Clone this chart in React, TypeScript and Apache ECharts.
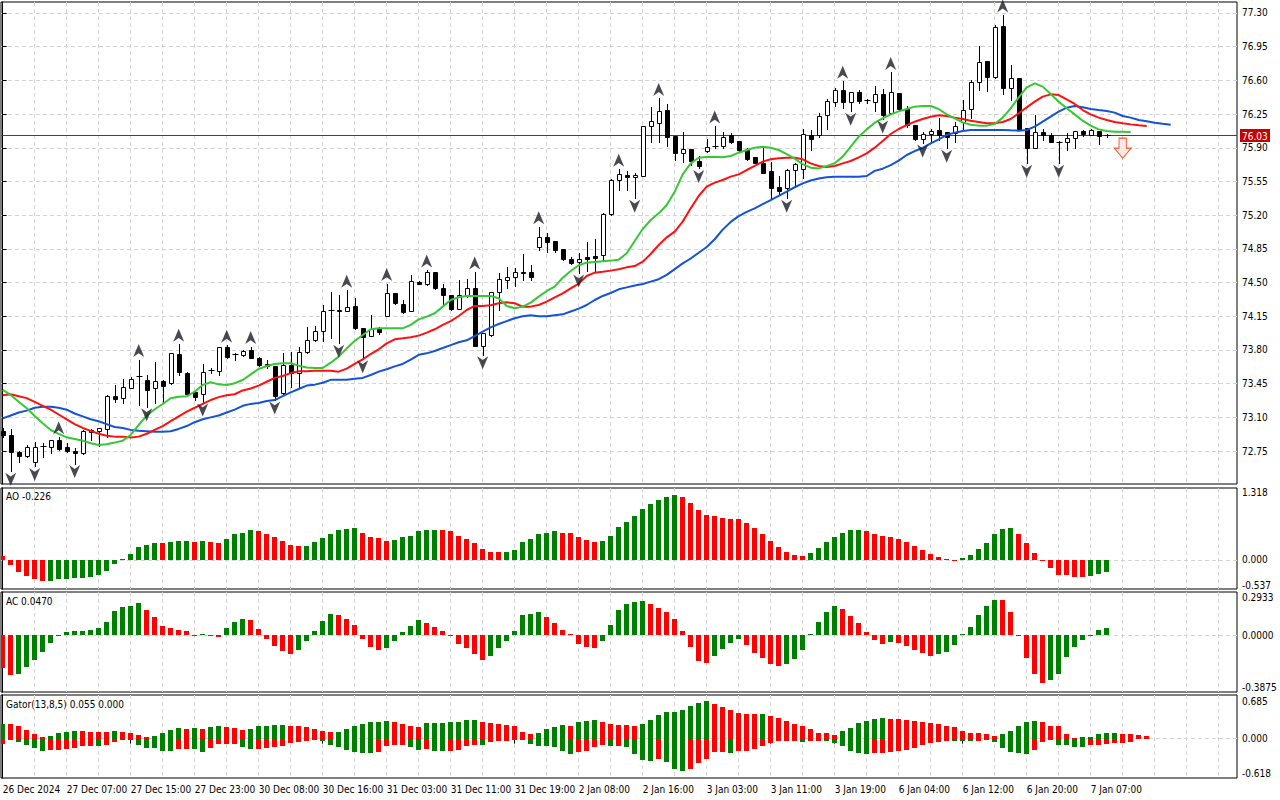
import React, { useEffect, useRef } from "react";
import * as echarts from "echarts";

// ---------- data ----------
const tickLabels = [
  "26 Dec 2024", "27 Dec 07:00", "27 Dec 15:00", "27 Dec 23:00", "30 Dec 08:00", "30 Dec 16:00",
  "31 Dec 03:00", "31 Dec 11:00", "31 Dec 19:00", "2 Jan 08:00", "2 Jan 16:00", "3 Jan 03:00",
  "3 Jan 11:00", "3 Jan 19:00", "6 Jan 04:00", "6 Jan 12:00", "6 Jan 20:00", "7 Jan 07:00",
];
const tickBars = [0, 8, 16, 24, 32, 40, 48, 56, 64, 72, 80, 88, 96, 104, 112, 120, 128, 136];
const gridBars = [4, 8, 12, 16, 20, 24, 28, 32, 36, 40, 44, 48, 52, 56, 60, 64, 68, 72, 76, 80, 84, 88,
  92, 96, 100, 104, 108, 112, 116, 120, 124, 128, 132, 136, 140, 144, 148, 152];
const priceTicks = [72.75, 73.1, 73.45, 73.8, 74.15, 74.5, 74.85, 75.2, 75.55, 75.9, 76.25, 76.6, 76.95, 77.3];

// open, high, low, close (H1 bars)
const ohlc = [
  [72.96, 72.99, 72.9, 72.92], [72.92, 72.98, 72.54, 72.74], [72.74, 72.75, 72.64, 72.7], [72.7, 72.81, 72.69, 72.79],
  [72.64, 72.84, 72.59, 72.79], [72.79, 72.83, 72.69, 72.8], [72.79, 72.87, 72.73, 72.86], [72.86, 72.9, 72.76, 72.77],
  [72.79, 72.83, 72.74, 72.75], [72.75, 72.78, 72.62, 72.73], [72.73, 72.97, 72.72, 72.96], [72.95, 72.98, 72.86, 72.97],
  [72.96, 72.99, 72.8, 72.985], [72.98, 73.33, 72.9, 73.32], [73.32, 73.44, 73.26, 73.29], [73.3, 73.5, 73.25, 73.42],
  [73.41, 73.52, 73.4, 73.495], [73.52, 73.7, 73.23, 73.53], [73.49, 73.54, 73.21, 73.38], [73.4, 73.67, 73.25, 73.48],
  [73.48, 73.49, 73.25, 73.43], [73.46, 73.77, 73.45, 73.765], [73.76, 73.86, 73.54, 73.57], [73.565, 73.57, 73.33, 73.34],
  [73.36, 73.37, 73.28, 73.31], [73.34, 73.655, 73.26, 73.575], [73.59, 73.61, 73.56, 73.592], [73.585, 73.83, 73.54, 73.83],
  [73.83, 73.85, 73.72, 73.73], [73.76, 73.77, 73.7, 73.755], [73.745, 73.8, 73.74, 73.79], [73.8, 73.835, 73.72, 73.72],
  [73.72, 73.725, 73.63, 73.645], [73.65, 73.7, 73.61, 73.635], [73.63, 73.63, 73.28, 73.32], [73.35, 73.77, 73.34, 73.645],
  [73.64, 73.78, 73.42, 73.56], [73.56, 73.83, 73.4, 73.775], [73.775, 74.035, 73.77, 73.9], [73.9, 74.05, 73.89, 74.0],
  [74.0, 74.27, 73.89, 74.205], [74.21, 74.405, 73.92, 74.2], [74.22, 74.37, 73.87, 74.2], [74.205, 74.42, 74.2, 74.245],
  [74.26, 74.335, 74.02, 74.025], [74.025, 74.03, 73.71, 73.93], [73.945, 74.16, 73.94, 74.015], [74.025, 74.035, 73.97, 73.99],
  [74.155, 74.49, 74.15, 74.39], [74.39, 74.39, 74.28, 74.285], [74.28, 74.32, 74.18, 74.19], [74.2, 74.58, 74.2, 74.52],
  [74.51, 74.52, 74.48, 74.485], [74.48, 74.63, 74.475, 74.605], [74.605, 74.61, 74.43, 74.44], [74.44, 74.49, 74.27, 74.37],
  [74.37, 74.37, 74.215, 74.23], [74.23, 74.53, 74.23, 74.37], [74.37, 74.535, 74.35, 74.44], [74.44, 74.61, 73.84, 73.84],
  [73.84, 73.98, 73.75, 73.98], [73.955, 74.405, 73.94, 74.4], [74.4, 74.6, 74.215, 74.535], [74.53, 74.665, 74.44, 74.555],
  [74.555, 74.65, 74.465, 74.615], [74.615, 74.8, 74.53, 74.595], [74.613, 74.68, 74.53, 74.56], [74.873, 75.08, 74.838, 74.97],
  [74.97, 75.02, 74.82, 74.925], [74.935, 74.935, 74.82, 74.838], [74.845, 74.85, 74.73, 74.745], [74.75, 74.77, 74.69, 74.7],
  [74.71, 74.81, 74.6, 74.74], [74.765, 74.92, 74.62, 74.745], [74.775, 74.95, 74.61, 74.76], [74.785, 75.22, 74.735, 75.212],
  [75.21, 75.575, 75.2, 75.565], [75.565, 75.676, 75.46, 75.625], [75.62, 75.655, 75.46, 75.595], [75.595, 75.64, 75.375, 75.62],
  [75.61, 76.125, 75.605, 76.125], [76.13, 76.32, 75.965, 76.18], [76.155, 76.413, 75.965, 76.28], [76.29, 76.355, 75.92, 76.015],
  [76.02, 76.02, 75.77, 75.85], [75.85, 76.06, 75.755, 75.885], [75.89, 75.89, 75.72, 75.765], [75.76, 75.81, 75.686, 75.715],
  [75.87, 75.99, 75.86, 75.905], [75.915, 76.126, 75.895, 75.905], [75.92, 76.06, 75.895, 76.015], [76.03, 76.05, 75.945, 75.955],
  [75.97, 75.97, 75.87, 75.875], [75.875, 75.895, 75.775, 75.785], [75.8, 75.8, 75.74, 75.745], [75.745, 75.92, 75.635, 75.64],
  [75.66, 75.755, 75.38, 75.485], [75.49, 75.61, 75.41, 75.455], [75.485, 75.675, 75.375, 75.67], [75.67, 75.745, 75.515, 75.73],
  [75.675, 76.09, 75.59, 76.045], [76.035, 76.085, 75.88, 75.99], [76.03, 76.26, 76.015, 76.23], [76.24, 76.41, 76.1, 76.385],
  [76.38, 76.52, 76.33, 76.5], [76.505, 76.59, 76.31, 76.38], [76.38, 76.475, 76.28, 76.475], [76.475, 76.5, 76.36, 76.39],
  [76.39, 76.41, 76.36, 76.392], [76.38, 76.54, 76.28, 76.455], [76.455, 76.51, 76.2, 76.24], [76.26, 76.683, 76.26, 76.475],
  [76.465, 76.465, 76.29, 76.3], [76.3, 76.33, 76.12, 76.135], [76.135, 76.135, 75.98, 75.99], [75.99, 76.065, 75.95, 76.04],
  [76.04, 76.1, 75.975, 76.077], [76.085, 76.205, 75.98, 76.035], [76.06, 76.06, 75.895, 76.015], [76.055, 76.17, 75.955, 76.125],
  [76.17, 76.395, 76.09, 76.29], [76.3, 76.6, 76.205, 76.585], [76.585, 76.96, 76.5, 76.79], [76.805, 76.805, 76.49, 76.63],
  [76.63, 77.18, 76.62, 77.15], [77.165, 77.28, 76.455, 76.52], [76.52, 76.76, 76.395, 76.62], [76.62, 76.62, 76.085, 76.085],
  [76.11, 76.11, 75.74, 75.9], [75.9, 76.24, 75.895, 76.065], [76.065, 76.1, 75.98, 76.03], [76.035, 76.05, 75.955, 75.965],
  [75.965, 75.97, 75.74, 75.962], [75.965, 76.05, 75.88, 76.0], [76.0, 76.07, 75.9, 76.07], [76.07, 76.08, 76.02, 76.045],
  [76.035, 76.09, 76.03, 76.085], [76.075, 76.075, 75.935, 76.025], [76.027, 76.045, 76.015, 76.03],
];

// Alligator lines as drawn (already shifted forward)
const jaw = [
  73.09, 73.12, 73.15, 73.17, 73.2, 73.21, 73.21, 73.2, 73.18, 73.14,
  73.11, 73.08, 73.06, 73.03, 73.0, 72.99, 72.97, 72.96, 72.955, 72.95,
  72.95, 72.955, 72.98, 73.01, 73.05, 73.08, 73.1, 73.12, 73.15, 73.18,
  73.22, 73.24, 73.25, 73.27, 73.28, 73.32, 73.36, 73.395, 73.43, 73.44,
  73.46, 73.49, 73.49, 73.49, 73.5, 73.51, 73.54, 73.575, 73.6, 73.63,
  73.655, 73.7, 73.75, 73.765, 73.79, 73.82, 73.85, 73.88, 73.9, 73.945,
  73.99, 74.035, 74.07, 74.1, 74.13, 74.15, 74.16, 74.15, 74.15, 74.16,
  74.17, 74.2, 74.23, 74.267, 74.319, 74.361, 74.392, 74.43, 74.45, 74.47,
  74.485, 74.51, 74.535, 74.58, 74.64, 74.7, 74.75, 74.81, 74.87, 74.95,
  75.05, 75.13, 75.19, 75.235, 75.27, 75.315, 75.357, 75.4, 75.445, 75.49,
  75.53, 75.56, 75.58, 75.593, 75.6, 75.6, 75.6, 75.6, 75.607, 75.66,
  75.683, 75.72, 75.766, 75.825, 75.866, 75.898, 75.946, 75.988, 76.033, 76.057,
  76.074, 76.085, 76.085, 76.085, 76.085, 76.085, 76.081, 76.078, 76.085, 76.119,
  76.171, 76.223, 76.275, 76.316, 76.334, 76.32, 76.303, 76.292, 76.282, 76.265,
  76.23, 76.213, 76.188, 76.175, 76.161, 76.15, 76.14,
];
const teeth = [
  73.33, 73.34, 73.32, 73.3, 73.26, 73.22, 73.18, 73.13, 73.08, 73.03,
  72.99, 72.96, 72.93, 72.91, 72.9, 72.9, 72.89, 72.9, 72.93, 72.97,
  73.01, 73.06, 73.11, 73.16, 73.2, 73.24, 73.28, 73.31, 73.33, 73.34,
  73.38, 73.4, 73.43, 73.47, 73.51, 73.53, 73.56, 73.58, 73.58, 73.585,
  73.585, 73.585, 73.575, 73.606, 73.655, 73.703, 73.758, 73.807, 73.869, 73.911,
  73.921, 73.932, 73.949, 73.98, 74.015, 74.06, 74.1, 74.153, 74.215, 74.257,
  74.257, 74.264, 74.285, 74.295, 74.285, 74.25, 74.25, 74.267, 74.302, 74.347,
  74.388, 74.44, 74.49, 74.568, 74.603, 74.613, 74.624, 74.638, 74.658, 74.672,
  74.717, 74.797, 74.89, 74.97, 75.029, 75.133, 75.271, 75.399, 75.496, 75.538,
  75.565, 75.6, 75.624, 75.669, 75.711, 75.756, 75.78, 75.79, 75.797, 75.797,
  75.78, 75.738, 75.711, 75.7, 75.71, 75.738, 75.763, 75.801, 75.842, 75.901,
  75.97, 76.043, 76.095, 76.136, 76.171, 76.199, 76.223, 76.237, 76.23, 76.213,
  76.199, 76.181, 76.168, 76.154, 76.154, 76.168, 76.199, 76.258, 76.32, 76.379,
  76.431, 76.455, 76.448, 76.403, 76.355, 76.292, 76.247, 76.213, 76.188, 76.168,
  76.154, 76.143, 76.133, 76.126,
];
const lips = [
  73.385, 73.333, 73.263, 73.194, 73.115, 73.039, 72.969, 72.928, 72.893, 72.876,
  72.858, 72.831, 72.814, 72.82, 72.838, 72.858, 72.917, 73.021, 73.118, 73.184,
  73.239, 73.298, 73.315, 73.319, 73.367, 73.437, 73.464, 73.443, 73.437, 73.454,
  73.488, 73.547, 73.603, 73.634, 73.655, 73.662, 73.662, 73.637, 73.617, 73.613,
  73.613, 73.668, 73.731, 73.817, 73.893, 73.956, 74.015, 74.025, 74.025, 74.025,
  74.025, 74.06, 74.118, 74.146, 74.181, 74.25, 74.319, 74.347, 74.361, 74.361,
  74.361, 74.361, 74.337, 74.257, 74.233, 74.25, 74.292, 74.354, 74.413, 74.458,
  74.55, 74.62, 74.68, 74.707, 74.714, 74.721, 74.728, 74.738, 74.804, 74.932,
  75.056, 75.15, 75.219, 75.306, 75.444, 75.624, 75.738, 75.797, 75.804, 75.808,
  75.801, 75.815, 75.849, 75.877, 75.901, 75.911, 75.901, 75.877, 75.835, 75.787,
  75.731, 75.693, 75.686, 75.71, 75.74, 75.808, 75.911, 76.015, 76.091, 76.161,
  76.206, 76.247, 76.278, 76.303, 76.327, 76.334, 76.334, 76.303, 76.247, 76.206,
  76.164, 76.14, 76.13, 76.13, 76.147, 76.213, 76.31, 76.424, 76.528, 76.569,
  76.535, 76.458, 76.379, 76.31, 76.247, 76.181, 76.13, 76.091, 76.074, 76.067,
  76.067, 76.064,
];

const upFractals = [7, 17, 22, 28, 31, 43, 48, 53, 59, 67, 77, 82, 89, 105, 111, 125];
const downFractals = [1, 4, 9, 18, 25, 34, 42, 45, 60, 72, 79, 87, 98, 106, 110, 115, 118, 128, 132];
const lastPrice = 76.03;
const sellArrow = [140, 76.0];

const ao = [
  0.07, -0.09, -0.22, -0.3, -0.35, -0.39, -0.385, -0.35, -0.345, -0.34,
  -0.33, -0.31, -0.28, -0.2, -0.07, 0.02, 0.11, 0.24, 0.28, 0.315,
  0.31, 0.334, 0.35, 0.352, 0.334, 0.353, 0.334, 0.316, 0.39, 0.464,
  0.5, 0.54, 0.52, 0.464, 0.41, 0.35, 0.28, 0.247, 0.26, 0.32,
  0.396, 0.476, 0.544, 0.563, 0.58, 0.5, 0.427, 0.396, 0.352, 0.355,
  0.414, 0.445, 0.52, 0.54, 0.545, 0.538, 0.52, 0.445, 0.39, 0.315,
  0.204, 0.148, 0.147, 0.149, 0.186, 0.334, 0.39, 0.464, 0.5, 0.52,
  0.5, 0.499, 0.427, 0.371, 0.334, 0.352, 0.445, 0.594, 0.686, 0.798,
  0.928, 1.02, 1.095, 1.15, 1.187, 1.15, 1.039, 0.909, 0.816, 0.798,
  0.76, 0.742, 0.741, 0.668, 0.575, 0.482, 0.352, 0.241, 0.148, 0.093,
  0.074, 0.13, 0.223, 0.334, 0.427, 0.5, 0.538, 0.54, 0.52, 0.464,
  0.445, 0.427, 0.39, 0.334, 0.26, 0.186, 0.11, 0.056, 0.012, -0.012,
  0.037, 0.093, 0.204, 0.315, 0.464, 0.563, 0.575, 0.482, 0.315, 0.13,
  -0.025, -0.16, -0.272, -0.275, -0.31, -0.311, -0.29, -0.26, -0.226,
];
const ac = [
  -0.222, -0.272, -0.265, -0.218, -0.168, -0.113, -0.052, -0.004, 0.02, 0.027,
  0.028, 0.034, 0.048, 0.091, 0.163, 0.19, 0.197, 0.218, 0.17, 0.123,
  0.061, 0.048, 0.034, 0.027, -0.005, 0.005, -0.003, -0.013, 0.048, 0.088,
  0.109, 0.102, 0.041, -0.027, -0.075, -0.109, -0.129, -0.102, -0.041, 0.027,
  0.095, 0.143, 0.136, 0.109, 0.068, -0.027, -0.082, -0.102, -0.088, -0.041,
  0.02, 0.061, 0.102, 0.082, 0.054, 0.027, -0.005, -0.061, -0.088, -0.129,
  -0.17, -0.143, -0.088, -0.041, 0.027, 0.136, 0.143, 0.157, 0.123, 0.082,
  0.034, 0.007, -0.061, -0.082, -0.088, -0.041, 0.068, 0.17, 0.211, 0.225,
  0.231, 0.211, 0.184, 0.157, 0.109, 0.027, -0.082, -0.177, -0.19, -0.143,
  -0.095, -0.054, -0.027, -0.068, -0.122, -0.157, -0.197, -0.211, -0.197, -0.163,
  -0.102, 0.004, 0.088, 0.157, 0.197, 0.177, 0.129, 0.082, 0.02, -0.034,
  -0.061, -0.048, -0.054, -0.075, -0.102, -0.122, -0.143, -0.129, -0.116, -0.068,
  0.004, 0.054, 0.136, 0.197, 0.238, 0.237, 0.157, -0.004, -0.157, -0.265,
  -0.327, -0.306, -0.265, -0.15, -0.082, -0.034, -0.002, 0.034, 0.047,
];
const gatorUp = [
  0.233, 0.23, 0.202, 0.13, 0.067, 0.026, 0.041, 0.083, 0.098, 0.113,
  0.112, 0.11, 0.098, 0.097, 0.114, 0.098, 0.083, 0.052, 0.026, 0.041,
  0.083, 0.13, 0.161, 0.158, 0.162, 0.145, 0.176, 0.192, 0.19, 0.161,
  0.13, 0.145, 0.192, 0.202, 0.207, 0.209, 0.206, 0.192, 0.176, 0.145,
  0.114, 0.098, 0.1, 0.145, 0.192, 0.223, 0.254, 0.256, 0.269, 0.267,
  0.223, 0.192, 0.176, 0.238, 0.24, 0.242, 0.254, 0.256, 0.285, 0.287,
  0.254, 0.238, 0.223, 0.207, 0.205, 0.098, 0.067, 0.083, 0.145, 0.176,
  0.207, 0.205, 0.254, 0.269, 0.289, 0.258, 0.237, 0.216, 0.21, 0.2,
  0.232, 0.289, 0.368, 0.416, 0.418, 0.447, 0.511, 0.563, 0.589, 0.537,
  0.495, 0.447, 0.4, 0.384, 0.383, 0.386, 0.358, 0.326, 0.274, 0.237,
  0.2, 0.147, 0.095, 0.094, 0.063, 0.126, 0.163, 0.242, 0.284, 0.316,
  0.318, 0.316, 0.305, 0.289, 0.279, 0.268, 0.253, 0.237, 0.205, 0.179,
  0.116, 0.084, 0.083, 0.068, 0.042, 0.068, 0.116, 0.2, 0.263, 0.284,
  0.258, 0.2, 0.199, 0.079, 0.011, 0.021, 0.032, 0.074, 0.084, 0.085,
  0.074, 0.068, 0.053, 0.047,
];
const gatorDown = [
  -0.083, -0.012, -0.052, -0.098, -0.145, -0.192, -0.176, -0.175, -0.16, -0.145,
  -0.114, -0.113, -0.115, -0.098, -0.052, -0.021, -0.005, -0.098, -0.145, -0.147,
  -0.192, -0.194, -0.16, -0.158, -0.16, -0.207, -0.145, -0.083, -0.082, -0.081,
  -0.13, -0.16, -0.158, -0.145, -0.13, -0.114, -0.067, -0.052, -0.036, -0.021,
  -0.036, -0.098, -0.13, -0.176, -0.207, -0.223, -0.225, -0.207, -0.114, -0.098,
  -0.097, -0.13, -0.176, -0.16, -0.192, -0.194, -0.19, -0.176, -0.114, -0.098,
  -0.099, -0.052, -0.036, -0.035, -0.021, -0.005, -0.083, -0.114, -0.115, -0.13,
  -0.192, -0.239, -0.207, -0.192, -0.13, -0.095, -0.116, -0.114, -0.13, -0.242,
  -0.337, -0.353, -0.321, -0.368, -0.479, -0.505, -0.474, -0.389, -0.321, -0.216,
  -0.214, -0.226, -0.2, -0.189, -0.158, -0.116, -0.074, -0.042, -0.04, -0.035,
  -0.045, -0.04, -0.03, -0.04, -0.068, -0.116, -0.19, -0.226, -0.242, -0.232,
  -0.226, -0.216, -0.19, -0.179, -0.147, -0.095, -0.068, -0.052, -0.03, -0.032,
  -0.037, -0.04, -0.035, -0.026, -0.058, -0.147, -0.21, -0.226, -0.242, -0.174,
  -0.047, -0.008, -0.1, -0.102, -0.137, -0.138, -0.105, -0.095, -0.084, -0.074,
  -0.066, -0.058,
];

// ---------- styling / layout ----------
const FONT = '"DejaVu Sans Condensed", "DejaVu Sans", sans-serif';
const GREEN = "#008000";
const RED = "#ff0000";
const PRICE_LINE = "#e00000";
const GRIDLINE = { color: "#d4d4d4", type: [4, 3] as number[], width: 1 };
const X_MIN = -0.2125;
const X_MAX = 154.2875;
const PRICE_MIN = 72.408;
const PRICE_MAX = 77.414;
const AO_RANGE = [-0.537, 1.318];
const AC_RANGE = [-0.3875, 0.2933];
const GATOR_RANGE = [-0.618, 0.685];

const upDownColors = (vals: number[], first: string, byMagnitude = false) =>
  vals.map((v, i) => {
    if (i === 0) return first;
    const a = byMagnitude ? Math.abs(v) : v;
    const b = byMagnitude ? Math.abs(vals[i - 1]) : vals[i - 1];
    return a > b ? GREEN : RED;
  });

function candleItem(_params: any, api: any) {
  const i = api.value(0);
  const o = api.value(1), h = api.value(2), l = api.value(3), c = api.value(4);
  const pO = api.coord([i, o]);
  const pH = api.coord([i, h]);
  const pL = api.coord([i, l]);
  const pC = api.coord([i, c]);
  const x = Math.round(pO[0]) + 0.5;
  const top = Math.min(pO[1], pC[1]);
  const bot = Math.max(pO[1], pC[1]);
  const children: any[] = [
    { type: "line", shape: { x1: x, y1: Math.round(pH[1]), x2: x, y2: Math.round(pL[1]) + 1 }, style: { stroke: "#000", lineWidth: 1 } },
  ];
  if (bot - top < 1.2) {
    const y = Math.round(top) + 0.5;
    children.push({ type: "line", shape: { x1: x - 3, y1: y, x2: x + 3, y2: y }, style: { stroke: "#000", lineWidth: 1 } });
  } else {
    const y = Math.round(top) + 0.5;
    const hgt = Math.max(1, Math.round(bot) - Math.round(top));
    children.push({
      type: "rect",
      shape: { x: x - 2, y, width: 4, height: hgt },
      style: { fill: c >= o ? "#fff" : "#000", stroke: "#000", lineWidth: 1 },
    });
  }
  return { type: "group", children };
}

// horizontal last-price line with its price tag on the right scale
function priceLineItem(params: any, api: any) {
  const cs = params.coordSys;
  const v = api.value(1);
  const y = Math.round(api.coord([0, v])[1]) + 0.5;
  const right = cs.x + cs.width;
  return {
    type: "group",
    children: [
      { type: "line", shape: { x1: cs.x, y1: y, x2: right, y2: y }, style: { stroke: PRICE_LINE, lineWidth: 1 } },
      { type: "rect", shape: { x: right + 3, y: y - 6.5, width: 30, height: 13 }, style: { fill: "#c80000" } },
      {
        type: "text",
        x: right + 5,
        y: y + 0.5,
        style: { text: v.toFixed(2), fill: "#fff", fontSize: 10, fontFamily: FONT, verticalAlign: "middle", align: "left" },
      },
    ],
  };
}

const histItem = (colors: string[]) => (params: any, api: any) => {
  const i = api.value(0);
  const v = api.value(1);
  const p = api.coord([i, v]);
  const z = api.coord([i, 0]);
  const x = Math.round(p[0] - 2.5);
  const y0 = Math.round(Math.min(p[1], z[1]));
  const y1 = Math.round(Math.max(p[1], z[1]));
  return {
    type: "rect",
    shape: { x, y: y0, width: 5, height: Math.max(1, y1 - y0) },
    style: { fill: colors[params.dataIndex] },
  };
};

const subYAxis = (gridIndex: number, range: number[], digits: number, shiftTop: number, shiftBot: number) => ({
  type: "value",
  gridIndex,
  position: "right",
  min: range[0],
  max: range[1],
  axisLine: { show: true, lineStyle: { color: "#000" } },
  axisTick: { show: false, customValues: [0] },
  splitLine: { show: true, customValues: [0], lineStyle: GRIDLINE },
  axisLabel: {
    show: true,
    customValues: [range[0], 0, range[1]],
    margin: 5,
    color: "#000",
    fontSize: 10,
    fontFamily: FONT,
    formatter: (v: number) => {
      const t = v.toFixed(digits);
      if (Math.abs(v - range[1]) < 1e-9) return `{t|${t}}`;
      if (Math.abs(v - range[0]) < 1e-9) return `{b|${t}}`;
      return t;
    },
    rich: {
      t: { padding: [shiftTop * 2, 0, 0, 0], fontSize: 10, fontFamily: FONT, color: "#000" },
      b: { padding: [0, 0, shiftBot * 2, 0], fontSize: 10, fontFamily: FONT, color: "#000" },
    },
  },
});

const plainX = (gridIndex: number) => ({
  type: "value",
  gridIndex,
  min: X_MIN,
  max: X_MAX,
  axisLine: { show: false },
  axisTick: { show: false, customValues: gridBars },
  axisLabel: { show: false },
  splitLine: { show: true, customValues: gridBars, lineStyle: GRIDLINE },
});

function buildOption() {
  const frame = { show: true, borderColor: "#000", borderWidth: 1, backgroundColor: "#fff", outerBoundsMode: "none" };
  const aoColors = upDownColors(ao, RED);
  const acColors = upDownColors(ac, RED);
  const guColors = upDownColors(gatorUp, GREEN, true);
  const gdColors = upDownColors(gatorDown, RED, true);
  const titleStyle = { fontSize: 10, fontWeight: "normal" as const, color: "#000", fontFamily: FONT };

  return {
    animation: false,
    backgroundColor: "#fff",
    title: [
      { text: "AO -0.226", left: 6, top: 491, padding: 0, textStyle: titleStyle },
      { text: "AC 0.0470", left: 6, top: 596, padding: 0, textStyle: titleStyle },
      { text: "Gator(13,8,5) 0.055 0.000", left: 6, top: 699, padding: 0, textStyle: titleStyle },
    ],
    grid: [
      { left: 1, top: 2, width: 1236, height: 482, ...frame },
      { left: 1, top: 488, width: 1236, height: 101, ...frame },
      { left: 1, top: 592, width: 1236, height: 100, ...frame },
      { left: 1, top: 695, width: 1236, height: 83, ...frame },
      { left: 1, top: 695, width: 1236, height: 83, show: false, outerBoundsMode: "none" },
    ],
    xAxis: [
      plainX(0),
      plainX(1),
      plainX(2),
      {
        type: "value",
        gridIndex: 3,
        min: X_MIN,
        max: X_MAX,
        axisLine: { show: false },
        axisTick: { show: true, customValues: tickBars, length: 5, lineStyle: { color: "#000" } },
        splitLine: { show: false },
        axisLabel: {
          show: true,
          customValues: tickBars,
          align: "left",
          margin: 6,
          color: "#000",
          fontSize: 10,
          fontFamily: FONT,
          formatter: (v: number) => tickLabels[Math.round(v / 8)] ?? "",
        },
      },
      plainX(4),
    ],
    yAxis: [
      {
        type: "value",
        gridIndex: 0,
        position: "right",
        min: PRICE_MIN,
        max: PRICE_MAX,
        axisLine: { show: true, lineStyle: { color: "#000" } },
        axisTick: { show: true, length: 4, customValues: priceTicks, lineStyle: { color: "#000" } },
        splitLine: { show: true, customValues: priceTicks, lineStyle: GRIDLINE },
        axisLabel: {
          show: true,
          customValues: priceTicks,
          margin: 5,
          color: "#000",
          fontSize: 10,
          fontFamily: FONT,
          formatter: (v: number) => v.toFixed(2),
        },
      },
      subYAxis(1, AO_RANGE, 3, 4, 4),
      subYAxis(2, AC_RANGE, 4, 5, 5),
      subYAxis(3, GATOR_RANGE, 3, 6, 5),
      { type: "value", gridIndex: 4, show: false, min: -1, max: 1 },
    ],
    series: [
      {
        type: "custom",
        name: "last price",
        xAxisIndex: 0,
        yAxisIndex: 0,
        clip: false,
        z: 1,
        silent: true,
        renderItem: priceLineItem,
        encode: { x: 0, y: 1 },
        data: [[0, lastPrice]],
      },
      {
        type: "custom",
        name: "candles",
        xAxisIndex: 0,
        yAxisIndex: 0,
        clip: true,
        z: 2,
        silent: true,
        renderItem: candleItem,
        encode: { x: 0, y: [1, 2, 3, 4] },
        data: ohlc.map((r, i) => [i, r[0], r[1], r[2], r[3]]),
      },
      {
        type: "line",
        name: "jaw",
        xAxisIndex: 0,
        yAxisIndex: 0,
        z: 3,
        silent: true,
        showSymbol: false,
        lineStyle: { color: "#1452d6", width: 2 },
        data: jaw.map((v, i) => [i, v]),
      },
      {
        type: "line",
        name: "teeth",
        xAxisIndex: 0,
        yAxisIndex: 0,
        z: 4,
        silent: true,
        showSymbol: false,
        lineStyle: { color: "#ff1010", width: 2 },
        data: teeth.map((v, i) => [i, v]),
      },
      {
        type: "line",
        name: "lips",
        xAxisIndex: 0,
        yAxisIndex: 0,
        z: 5,
        silent: true,
        showSymbol: false,
        lineStyle: { color: "#34c834", width: 2 },
        data: lips.map((v, i) => [i, v]),
      },
      {
        type: "scatter",
        name: "up fractals",
        xAxisIndex: 0,
        yAxisIndex: 0,
        z: 6,
        silent: true,
        symbol: "path://M5,0 L10,12 L5,8.5 L0,12 Z",
        symbolSize: [11, 13],
        symbolOffset: [0, -9],
        itemStyle: { color: "#1c1c26" },
        data: upFractals.map((i) => [i, ohlc[i][1]]),
      },
      {
        type: "scatter",
        name: "down fractals",
        xAxisIndex: 0,
        yAxisIndex: 0,
        z: 6,
        silent: true,
        symbol: "path://M0,0 L5,3.5 L10,0 L5,12 Z",
        symbolSize: [11, 13],
        symbolOffset: [0, 8],
        itemStyle: { color: "#1c1c26" },
        data: downFractals.map((i) => [i, ohlc[i][2]]),
      },
      {
        type: "scatter",
        name: "sell",
        xAxisIndex: 0,
        yAxisIndex: 0,
        z: 6,
        silent: true,
        symbol: "path://M4,0 L10,0 L10,9 L14,9 L7,18 L0,9 L4,9 Z",
        symbolSize: [17, 20],
        symbolOffset: [0, 10],
        itemStyle: { color: "#ffe6e2", borderColor: "#ff2a00", borderWidth: 1 },
        data: [sellArrow],
      },
      {
        type: "custom",
        name: "AO",
        xAxisIndex: 1,
        yAxisIndex: 1,
        clip: true,
        silent: true,
        renderItem: histItem(aoColors),
        encode: { x: 0, y: 1 },
        data: ao.map((v, i) => [i, v]),
      },
      {
        type: "custom",
        name: "AC",
        xAxisIndex: 2,
        yAxisIndex: 2,
        clip: true,
        silent: true,
        renderItem: histItem(acColors),
        encode: { x: 0, y: 1 },
        data: ac.map((v, i) => [i, v]),
      },
      {
        type: "custom",
        name: "Gator up",
        xAxisIndex: 3,
        yAxisIndex: 3,
        clip: true,
        silent: true,
        renderItem: histItem(guColors),
        encode: { x: 0, y: 1 },
        data: gatorUp.map((v, i) => [i, v]),
      },
      {
        type: "custom",
        name: "Gator down",
        xAxisIndex: 3,
        yAxisIndex: 3,
        clip: true,
        silent: true,
        renderItem: histItem(gdColors),
        encode: { x: 0, y: 1 },
        data: gatorDown.map((v, i) => [i, v]),
      },
    ],
  };
}

export default function App() {
  const ref = useRef<HTMLDivElement>(null);
  useEffect(() => {
    if (!ref.current) return;
    const chart = echarts.init(ref.current, null, { renderer: "svg" });
    chart.setOption(buildOption() as any);
    return () => chart.dispose();
  }, []);
  return (
    <div
      ref={ref}
      style={{ position: "absolute", left: 0, top: 0, width: 1280, height: 800, background: "#fff" }}
    />
  );
}
